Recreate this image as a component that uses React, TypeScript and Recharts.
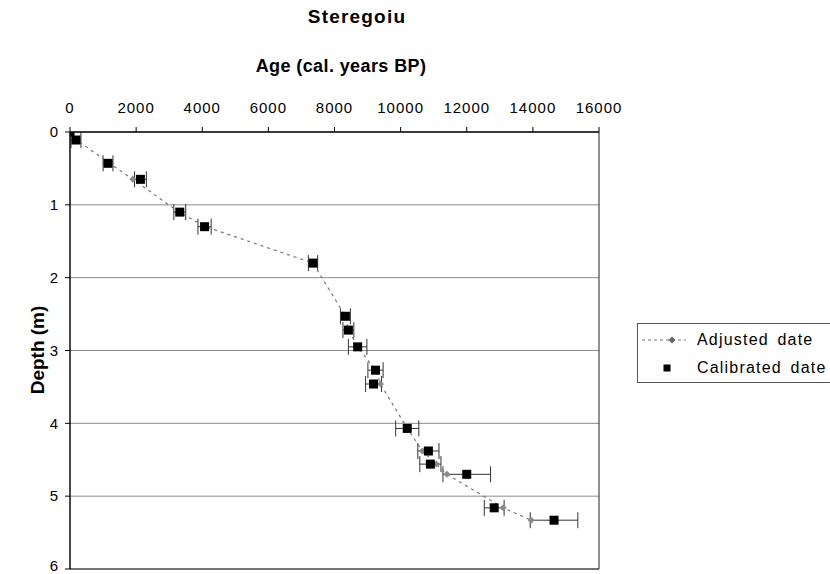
import React from 'react';
import {
  ComposedChart,
  Scatter,
  XAxis,
  YAxis,
  CartesianGrid,
  ErrorBar,
  ReferenceArea,
  Legend,
} from 'recharts';

// depth of each dated level (m)
const depths = [0, 0.11, 0.43, 0.65, 1.1, 1.3, 1.8, 2.53, 2.72, 2.95, 3.27, 3.46, 4.07, 4.38, 4.56, 4.7, 5.16, 5.33];
// calibrated ages (cal. years BP)
const calibrated = [0, 180, 1150, 2130, 3320, 4070, 7350, 8330, 8420, 8700, 9240, 9180, 10200, 10840, 10900, 12000, 12830, 14640];
// adjusted ages from the age-depth model
const adjusted = [0, 200, 1200, 1900, 3300, 4100, 7350, 8330, 8420, 8700, 9240, 9390, 10200, 10660, 11080, 11400, 13100, 13950];
// calibration error (+/- years)
const errors = [0, 150, 150, 180, 180, 200, 140, 150, 165, 280, 230, 240, 350, 320, 320, 720, 300, 720];

const ageTicks = [0, 2000, 4000, 6000, 8000, 10000, 12000, 14000, 16000];
const depthTicks = [0, 1, 2, 3, 4, 5, 6];

const calibratedData = depths.map((d, i) => ({ depth: d, age: calibrated[i], err: errors[i] }));
const adjustedData = depths.map((d, i) => ({ depth: d, age: adjusted[i] }));

const FONT = '"Liberation Sans", Arial, Helvetica, sans-serif';

const Square = (props: any) => {
  const { cx, cy } = props;
  if (cx == null || cy == null) return null;
  return <rect x={cx - 4.5} y={cy - 4.5} width={9} height={9} fill="#000" />;
};

const Diamond = (props: any) => {
  const { cx, cy } = props;
  if (cx == null || cy == null) return null;
  return (
    <path
      d={`M${cx},${cy - 3.5} L${cx + 3.5},${cy} L${cx},${cy + 3.5} L${cx - 3.5},${cy} Z`}
      fill="#8a8a8a"
    />
  );
};

// legend box runs off the right edge of the picture, so no right border
const LegendBox = () => (
  <div
    style={{
      border: '1px solid #555',
      borderRight: 'none',
      paddingTop: 2,
      width: 230,
      background: '#fff',
      fontFamily: FONT,
      fontSize: 16,
      letterSpacing: 1.2,
      wordSpacing: 3,
      color: '#000',
    }}
  >
    <div style={{ display: 'flex', alignItems: 'center', height: 28 }}>
      <svg width={55} height={14}>
        <line x1={4} y1={7} x2={48} y2={7} stroke="#777" strokeDasharray="3 3" />
        <path d="M34,3.5 L37.5,7 L34,10.5 L30.5,7 Z" fill="#666" />
      </svg>
      <span style={{ marginLeft: 4 }}>Adjusted date</span>
    </div>
    <div style={{ display: 'flex', alignItems: 'center', height: 28 }}>
      <svg width={55} height={14}>
        <rect x={25.5} y={3.5} width={7} height={7} fill="#000" />
      </svg>
      <span style={{ marginLeft: 4 }}>Calibrated date</span>
    </div>
  </div>
);

const DepthLabel = () => (
  <text
    x={37}
    y={350}
    transform="rotate(-90, 37, 350)"
    textAnchor="middle"
    dominantBaseline="central"
    fontSize={19}
    fontWeight="bold"
    fill="#000"
    style={{ fontFamily: FONT }}
  >
    Depth (m)
  </text>
);

export default function App() {
  return (
    <div
      style={{
        position: 'absolute',
        left: 0,
        top: 0,
        width: 830,
        height: 574,
        background: '#fff',
        fontFamily: FONT,
        overflow: 'hidden',
      }}
    >
      <div
        style={{
          position: 'absolute',
          left: 357,
          top: 6,
          transform: 'translateX(-50%)',
          fontSize: 19,
          fontWeight: 'bold',
          letterSpacing: 1.2,
          whiteSpace: 'nowrap',
        }}
      >
        Steregoiu
      </div>
      <div
        style={{
          position: 'absolute',
          left: 341,
          top: 56,
          transform: 'translateX(-50%)',
          fontSize: 18,
          fontWeight: 'bold',
          letterSpacing: 0.4,
          whiteSpace: 'nowrap',
        }}
      >
        Age (cal. years BP)
      </div>
      <ComposedChart
        width={830}
        height={574}
        margin={{ top: 92, right: 231, bottom: 5, left: 30 }}
      >
        <CartesianGrid horizontal vertical={false} stroke="#8c8c8c" />
        <XAxis
          type="number"
          dataKey="age"
          orientation="top"
          domain={[0, 16000]}
          ticks={ageTicks}
          height={40}
          tickSize={5}
          tickMargin={14}
          axisLine={{ stroke: '#000' }}
          tickLine={{ stroke: '#000' }}
          tick={{ fill: '#000', fontSize: 15, letterSpacing: 1 }}
          allowDataOverflow
        />
        <YAxis
          type="number"
          dataKey="depth"
          domain={[0, 6]}
          ticks={depthTicks}
          reversed
          width={40}
          tickSize={5}
          tickMargin={7}
          axisLine={{ stroke: '#000' }}
          tickLine={{ stroke: '#000' }}
          tick={{ fill: '#000', fontSize: 15 }}
          label={<DepthLabel />}
          allowDataOverflow
        />
        <ReferenceArea x1={0} x2={16000} y1={0} y2={6} fill="none" stroke="#222" strokeWidth={1} />
        <Scatter
          name="Adjusted date"
          data={adjustedData}
          line={{ stroke: '#777', strokeDasharray: '3 4', strokeWidth: 1.2 }}
          lineType="joint"
          shape={<Diamond />}
          isAnimationActive={false}
        />
        <Scatter
          name="Calibrated date"
          data={calibratedData}
          shape={<Square />}
          isAnimationActive={false}
        >
          <ErrorBar dataKey="err" direction="x" width={8} stroke="#333" strokeWidth={1} />
        </Scatter>
        <Legend
          layout="vertical"
          align="center"
          verticalAlign="middle"
          content={<LegendBox />}
          wrapperStyle={{ left: 637, top: 323, width: 230 }}
        />
      </ComposedChart>
    </div>
  );
}
